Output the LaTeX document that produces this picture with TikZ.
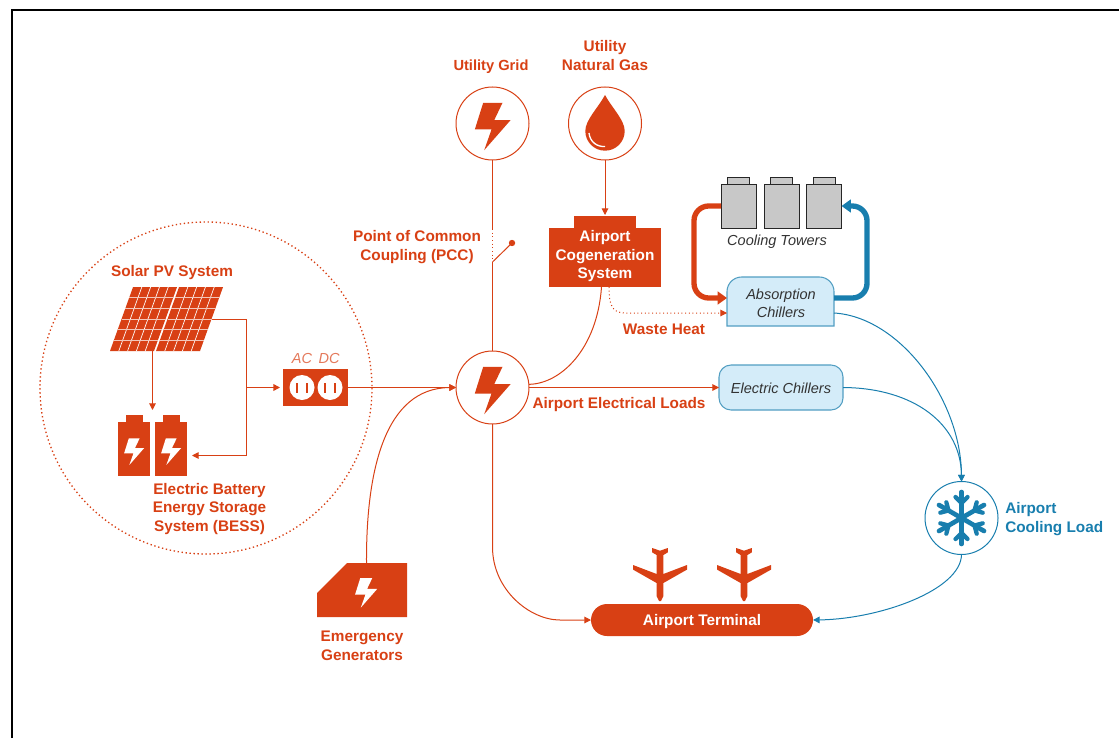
\documentclass[tikz,border=0pt]{standalone}
\usepackage{fontspec}
\setmainfont{Liberation Sans}
\usetikzlibrary{arrows.meta}
\definecolor{orangered}{RGB}{216,64,20}
\definecolor{coolblue}{RGB}{24,126,174}
\definecolor{paleblue}{RGB}{212,236,249}
\definecolor{towergrey}{RGB}{200,200,200}
\tikzset{
  labeltext/.style={align=center,text=orangered,font=\fontsize{11.5pt}{13.9pt}\selectfont\bfseries,inner sep=0pt},
  whitetext/.style={labeltext,text=white},
  bluetext/.style={labeltext,text=coolblue,align=left},
  chillertext/.style={align=center,text=black!80,font=\fontsize{10.9pt}{13.6pt}\selectfont\itshape,inner sep=0pt},
  iconcircle/.style={circle,draw=orangered,fill=white,line width=0.75pt,minimum size=54.75pt,inner sep=0pt,outer sep=0pt},
  solidbox/.style={rectangle,fill=orangered,inner sep=0pt,outer sep=0pt},
  towerbox/.style={rectangle,draw=black!85,fill=towergrey,line width=0.7pt,inner sep=0pt,outer sep=0pt},
  chillerbox/.style={draw=coolblue!75,fill=paleblue,line width=0.8pt},
  hookbox/.style={rectangle,inner sep=0pt,outer sep=0pt},
  redline/.style={draw=orangered,line width=0.75pt},
  blueline/.style={draw=coolblue,line width=0.75pt},
  tip/.style={-{Triangle[length=5pt,width=5pt]}},
  hotloop/.style={draw=orangered,line width=4pt,rounded corners=11pt,-{Triangle[length=7pt,width=9.5pt]}},
  coldloop/.style={draw=coolblue,line width=4pt,rounded corners=11pt,-{Triangle[length=7pt,width=9.5pt]}},
  boltmark/.pic={\fill[#1,yscale=-1] (-9.3,-20.7) -- (10,-20.7) -- (1.7,-3.3) -- (18,-3.3) -- (-8.3,26.7) -- (-1,6) -- (-17.7,6) -- cycle;},
  planemark/.pic={\fill[orangered,yscale=-1] (0,2.7) -- (7.8,0) -- (7.8,4.4) -- (3.4,7) -- (3.4,26) -- (27,17) -- (27,21.6) -- (3.4,35) -- (3.4,48) -- (1,53) -- (-1,53) -- (-3.4,48) -- (-3.4,35) -- (-27,21.6) -- (-27,17) -- (-3.4,26) -- (-3.4,7) -- (-7.8,4.4) -- (-7.8,0) -- cycle;},
  outletmark/.pic={\fill[white] (0,0) circle (12.5); \fill[orangered] (-6,-5) rectangle (-4,5); \fill[orangered] (4,-5) rectangle (6,5);},
}
\begin{document}
\begin{tikzpicture}[x=0.75pt,y=0.75pt,yscale=-1]
\useasboundingbox (0,0) rectangle (1119,738);

%Straight Lines [frame]
\draw [black,line width=0.8pt] (12,738) -- (12,10) -- (1119,10);

%Shape: Ellipse [solar system]
\draw [orangered,line width=1pt,dotted] (206,388) circle (166);

%Shape: Solar panels
\foreach \panelx in {110,156} {
\begin{scope}[shift={(\panelx,351)},xslant=-0.36]
\fill [orangered] (0,0) rectangle (44,-64);
\foreach \i in {1,...,4} \draw [white,line width=0.5pt] (\i*8.8,0) -- (\i*8.8,-64);
\foreach \j in {1,...,5} \draw [white!70!orangered,line width=0.7pt] (0,-\j*10.67) -- (44,-\j*10.67);
\end{scope}
}
\coordinate (solarright) at (212,319);
\coordinate (solarbottom) at (152.5,351);
\coordinate (solarjoin) at (246,387.5);
\coordinate (solarcorner) at (246,319);

%Shape: Batteries
\node [solidbox,minimum width=24pt,minimum height=40.5pt] (batleft) at (134,449) {};
\fill [orangered] (126,415) rectangle (143,423);
\pic [scale=0.56] at (134,450) {boltmark=white};
\node [solidbox,minimum width=24pt,minimum height=40.5pt] (batright) at (171,449) {};
\fill [orangered] (163,415) rectangle (180,423);
\pic [scale=0.56] at (171,450) {boltmark=white};

%Shape: Inverter
\node [solidbox,minimum width=48.75pt,minimum height=27.75pt] (inverter) at (315.5,387.5) {};
\pic at (302,387.5) {outletmark};
\pic at (330,387.5) {outletmark};

%Shape: Circles
\node [iconcircle] (gridnode) at (492.5,123.5) {};
\pic at (492.5,123.5) {boltmark=orangered};
\node [iconcircle] (gasnode) at (605,123.5) {};
\fill [orangered] (605,95) .. controls (612,108) and (624.7,120) .. (624.7,131) arc (0:180:19.7) .. controls (585.3,120) and (598,108) .. (605,95) -- cycle;
\draw [white,line width=1pt] (589,133) .. controls (590,142) and (597,147) .. (605,146.5);
\node [iconcircle] (busnode) at (492.5,387.5) {};
\pic at (492.5,387.5) {boltmark=orangered};
\node [iconcircle,draw=coolblue] (coolnode) at (961.5,518) {};
\foreach \a in {30,90,...,330} {
\begin{scope}[shift={(961.5,518)},rotate=\a]
\draw [coolblue,line width=3.5pt,line cap=round] (0,0) -- (26,0);
\draw [coolblue,line width=3.2pt,line cap=round] (15,0) -- (21,-6) (15,0) -- (21,6);
\end{scope}
}

%Shape: Cogeneration
\fill [orangered] (574,216) rectangle (636,229);
\node [solidbox,minimum width=84pt,minimum height=44.25pt] (cogen) at (605,257.5) {};
\draw (605,256.5) node [whitetext] (cogentext) {Airport\\Cogeneration\\System};

%Shape: Cooling towers
\foreach \towername/\towerx in {towerone/738.5,towertwo/781.5,towerthree/824} {
\draw [towerbox] (\towerx-11,177) rectangle (\towerx+11,184);
\node [towerbox,minimum width=26.25pt,minimum height=33pt] (\towername) at (\towerx,206) {};
}

%Shape: Absorption chillers
\draw [chillerbox,rounded corners=11pt] (727,326) [sharp corners] -- (834,326) [rounded corners=11pt] -- (834,277) -- (727,277) -- (727,326) [sharp corners] -- cycle;
\node [hookbox,minimum width=80.25pt,minimum height=36.75pt] (absorb) at (780.5,301.5) {};
\draw (781,303) node [chillertext] (absorbtext) {Absorption\\Chillers};

%Shape: Electric chillers
\node [chillerbox,rectangle,rounded corners=9pt,inner sep=0pt,outer sep=0pt,minimum width=93pt,minimum height=33.75pt] (elchill) at (781,387.5) {};
\draw (781,388) node [chillertext] (elchilltext) {Electric Chillers};

%Shape: Generator
\fill [orangered] (317,593) -- (347,563) -- (407,563) -- (407,617) -- (317,617) -- cycle;
\pic [scale=0.62] at (366,591) {boltmark=white};
\coordinate (genout) at (366.5,563);

%Shape: Planes
\pic at (660,548) {planemark};
\pic at (744,548) {planemark};

%Shape: Terminal
\node [solidbox,rounded corners=12pt,minimum width=166.5pt,minimum height=24pt] (terminal) at (702,620) {};
\draw (702,622) node [whitetext] (terminaltext) {Airport Terminal};

%Straight Lines [grid to bus]
\draw [redline] (gridnode.south) -- (492.5,229);
\draw [redline,dotted] (492.5,229) -- (492.5,262);
\draw [redline] (492.5,262) -- (busnode.north);
\fill [orangered] (512,243) circle (3.2) coordinate (switchend);
\draw [redline] (492.5,262) -- (switchend);

%Straight Lines [gas and cogeneration]
\draw [redline,tip] (gasnode.south) -- (605,215);
\draw [redline] (601.5,0 |- cogen.south) .. controls (597,350) and (560,384) .. (busnode.5);
\draw [redline,dotted,tip] (609,0 |- cogen.south) .. controls (609,305) and (612,313) .. (625,313) -- (absorb.west |- 0,313);

%Straight Lines [solar]
\draw [redline,tip] (solarbottom) -- (152.5,410);
\draw [redline] (solarright) -- (solarcorner) -- (solarjoin);
\draw [redline,tip] (solarcorner) -- (246,455.5) -- (192,455.5);
\draw [redline,line width=1.2pt,tip] (solarjoin) -- (280,0 |- inverter.west);

%Straight Lines [into and out of bus]
\draw [redline,tip] (inverter.east) -- (busnode.west);
\draw [redline,tip] (genout) .. controls (366,470) and (385,388) .. (busnode.west);
\draw [redline,tip] (busnode.east) -- (elchill.west);
\draw [redline,tip] (busnode.south) -- (492.5,547) .. controls (492.5,590) and (530,620) .. (560,620) -- (terminal.west);

%Straight Lines [cooling loops]
\draw [hotloop] (towerone.west) -- (694,206) -- (694,298) -- (absorb.west |- 0,298);
\draw [coldloop] (absorb.east |- 0,298) -- (867,298) -- (867,206) -- (towerthree.east);
\draw [blueline,tip] (absorb.east |- 0,313) .. controls (900,317) and (961,400) .. (coolnode.north);
\draw [blueline,tip] (elchill.east) .. controls (915,388) and (961,425) .. (coolnode.north);
\draw [blueline,tip] (coolnode.south) .. controls (961,590) and (880,619) .. (terminal.east);

% Text Node
\draw (491,67) node [labeltext,font=\fontsize{11pt}{13.9pt}\selectfont\bfseries] (gridlabel) {Utility Grid};
% Text Node
\draw (605,55.5) node [labeltext] (gaslabel) {Utility\\Natural Gas};
% Text Node
\draw (417,247) node [labeltext] (pcclabel) {Point of Common\\Coupling (PCC)};
% Text Node
\draw (664,329) node [labeltext] (wastelabel) {Waste Heat};
% Text Node
\draw (619,405) node [labeltext] (loadslabel) {Airport Electrical Loads};
% Text Node
\draw (172,273) node [labeltext] (solarlabel) {Solar PV System};
% Text Node
\draw (209.5,509) node [labeltext] (besslabel) {Electric Battery\\Energy Storage\\System (BESS)};
% Text Node
\draw (362,646) node [labeltext] (genlabel) {Emergency\\Generators};
% Text Node
\draw (1005,519) node [bluetext,anchor=west] (coollabel) {Airport\\Cooling Load};
% Text Node
\draw (777,242) node [chillertext] (towerlabel) {Cooling Towers};
% Text Node
\draw (302,358) node [chillertext,text=orangered!70] (aclabel) {AC};
% Text Node
\draw (329,358) node [chillertext,text=orangered!70] (dclabel) {DC};

\end{tikzpicture}
\end{document}
